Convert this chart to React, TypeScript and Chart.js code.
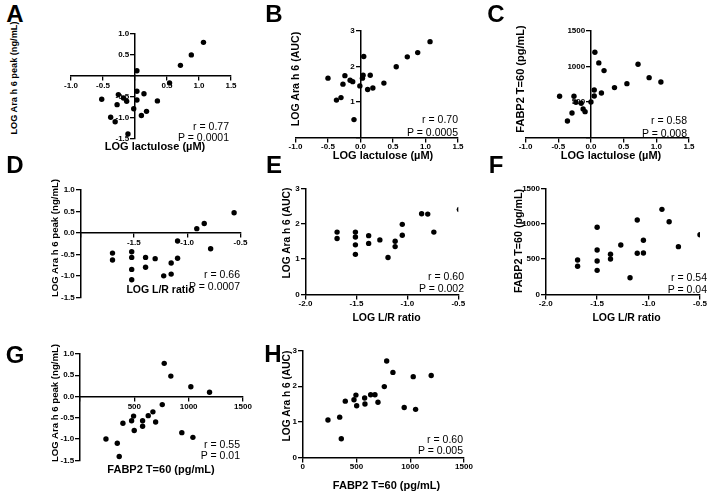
import React, { useEffect, useRef } from 'react';
import { Chart, registerables } from 'chart.js';
Chart.register(...registerables);

const FONT = '"Liberation Sans", Arial, Helvetica, sans-serif';

// ---- data ----
const A_x = [1.07, 0.88, 0.71, 0.03, 0.54, 0.03, 0.14, -0.52, -0.26, -0.18, -0.13, -0.28, 0.03, 0.35, -0.02, 0.18, 0.10, -0.38, -0.31, -0.11];
const A_y = [0.80, 0.50, 0.25, 0.12, -0.17, -0.37, -0.43, -0.56, -0.45, -0.53, -0.61, -0.69, -0.58, -0.60, -0.79, -0.85, -0.95, -0.99, -1.10, -1.39];

const B_x = [1.07, 0.88, 0.72, 0.55, 0.05, 0.36, 0.15, 0.04, 0.03, 0.19, 0.11, -0.01, -0.50, -0.24, -0.16, -0.12, -0.27, -0.30, -0.37, -0.10];
const B_y = [2.70, 2.39, 2.27, 1.99, 2.28, 1.53, 1.75, 1.75, 1.67, 1.39, 1.35, 1.45, 1.67, 1.74, 1.61, 1.57, 1.50, 1.12, 1.05, 0.50];

const C_x = [1.07, 0.89, 0.72, 0.55, 0.36, 0.16, 0.20, 0.12, 0.06, 0.05, 0.05, 0.00, -0.48, -0.26, -0.23, -0.15, -0.12, -0.09, -0.29, -0.36];
const C_y = [781, 842, 1031, 757, 701, 626, 941, 1050, 1200, 668, 583, 499, 579, 579, 494, 480, 400, 362, 343, 230];

const D_x = [-0.56, -0.84, -0.91, -0.78, -1.09, -1.09, -1.15, -1.15, -1.22, -1.30, -1.39, -1.39, -1.52, -1.52, -1.52, -1.52, -1.70, -1.70];
const D_y = [0.47, 0.22, 0.10, -0.37, -0.19, -0.59, -0.70, -0.96, -1.00, -0.60, -0.57, -0.80, -0.44, -0.57, -0.85, -1.09, -0.47, -0.63];

const E_x = [-0.49, -0.80, -0.86, -0.74, -1.05, -1.05, -1.12, -1.12, -1.19, -1.27, -1.38, -1.38, -1.51, -1.51, -1.51, -1.51, -1.69, -1.69];
const E_y = [2.40, 2.27, 2.28, 1.76, 1.98, 1.67, 1.50, 1.35, 1.04, 1.54, 1.66, 1.44, 1.76, 1.62, 1.40, 1.13, 1.76, 1.58];

const F_x = [-0.87, -0.80, -1.11, -0.50, -0.71, -1.05, -1.05, -1.11, -1.27, -1.37, -1.37, -1.18, -1.50, -1.50, -1.50, -1.50, -1.69, -1.69];
const F_y = [1202, 1027, 1051, 843, 674, 764, 584, 580, 697, 566, 499, 235, 948, 627, 471, 339, 485, 396];

const G_x = [775, 836, 1020, 1192, 757, 671, 628, 696, 576, 576, 493, 475, 499, 395, 937, 1039, 239, 343, 361];
const G_y = [0.78, 0.48, 0.23, 0.10, -0.19, -0.36, -0.45, -0.60, -0.57, -0.70, -0.46, -0.57, -0.80, -0.63, -0.85, -0.96, -1.00, -1.10, -1.41];

const H_x = [781, 839, 1028, 1195, 759, 672, 632, 700, 576, 579, 495, 477, 502, 396, 944, 1050, 235, 344, 359];
const H_y = [2.71, 2.39, 2.27, 2.30, 1.99, 1.76, 1.76, 1.55, 1.67, 1.50, 1.75, 1.62, 1.45, 1.58, 1.40, 1.35, 1.05, 1.13, 0.52];

const LETTERS = ['A', 'B', 'C', 'D', 'E', 'F', 'G', 'H'];
const X_TITLES = ['LOG lactulose (\u00b5M)', 'LOG lactulose (\u00b5M)', 'LOG lactulose (\u00b5M)', 'LOG L/R ratio', 'LOG L/R ratio', 'LOG L/R ratio', 'FABP2 T=60 (pg/mL)', 'FABP2 T=60 (pg/mL)'];
const Y_TITLES = ['LOG Ara h 6 peak (ng/mL)', 'LOG Ara h 6 (AUC)', 'FABP2 T=60 (pg/mL)', 'LOG Ara h 6 peak (ng/mL)', 'LOG Ara h 6 (AUC)', 'FABP2 T=60 (pg/mL)', 'LOG Ara h 6 peak (ng/mL)', 'LOG Ara h 6 (AUC)'];
const R_TEXT = ['r = 0.77', 'r = 0.70', 'r = 0.58', 'r = 0.66', 'r = 0.60', 'r = 0.54', 'r = 0.55', 'r = 0.60'];
const P_TEXT = ['P = 0.0001', 'P = 0.0005', 'P = 0.008', 'P = 0.0007', 'P = 0.002', 'P = 0.04', 'P = 0.01', 'P = 0.005'];

// axis ranges: [min, max, step]
const LAC_RANGE = [-1.0, 1.5, 0.5];
const LR_RANGE = [-2.0, -0.5, 0.5];
const FABP_RANGE = [0, 1500, 500];
const PEAK_RANGE = [-1.5, 1.0, 0.5];
const AUC_RANGE = [0, 3, 1];

type Area = { l: number; r: number; t: number; b: number };
type PanelDef = {
  xs: number[]; ys: number[];
  xr: number[]; yr: number[];
  xDec: number; yDec: number;
  yAxisAtX: number; xAxisAtY: number;
  hideX: number[]; hideY: number[];
  area: Area;
  letter: [number, number];
  xTitle: [number, number, number];
  yTitle: [number, number, number];
  stats: [number, number, number];
};

const PANELS: PanelDef[] = [
  { xs: A_x, ys: A_y, xr: LAC_RANGE, yr: PEAK_RANGE, xDec: 1, yDec: 1, yAxisAtX: 0, xAxisAtY: 0, hideX: [0], hideY: [0],
    area: { l: 71, r: 231, t: 34, b: 138.5 }, letter: [15, 13.5], xTitle: [155, 146, 11], yTitle: [15, 78, 9.2], stats: [229, 126, 137] },
  { xs: B_x, ys: B_y, xr: LAC_RANGE, yr: AUC_RANGE, xDec: 1, yDec: 0, yAxisAtX: 0, xAxisAtY: 0, hideX: [], hideY: [0],
    area: { l: 295.5, r: 458, t: 31, b: 137.3 }, letter: [274, 13.5], xTitle: [383, 155, 11], yTitle: [295, 79, 10.6], stats: [458, 118.5, 131.5] },
  { xs: C_x, ys: C_y, xr: LAC_RANGE, yr: FABP_RANGE, xDec: 1, yDec: 0, yAxisAtX: 0, xAxisAtY: 0, hideX: [], hideY: [0],
    area: { l: 525.6, r: 689, t: 31, b: 137.3 }, letter: [496, 13.5], xTitle: [611, 154.5, 11], yTitle: [520, 79, 11], stats: [687, 119.5, 132.5] },
  { xs: D_x, ys: D_y, xr: LR_RANGE, yr: PEAK_RANGE, xDec: 1, yDec: 1, yAxisAtX: -2, xAxisAtY: 0, hideX: [-2], hideY: [],
    area: { l: 80.5, r: 240.5, t: 190, b: 297.3 }, letter: [15, 164.5], xTitle: [160.5, 288.5, 10.5], yTitle: [54.5, 238, 9.6], stats: [240, 274, 285.5] },
  { xs: E_x, ys: E_y, xr: LR_RANGE, yr: AUC_RANGE, xDec: 1, yDec: 0, yAxisAtX: -2, xAxisAtY: 0, hideX: [], hideY: [],
    area: { l: 305.5, r: 458.3, t: 188.3, b: 294.3 }, letter: [274, 165], xTitle: [386.5, 316.5, 10.5], yTitle: [287, 233, 10.2], stats: [464, 275.5, 288] },
  { xs: F_x, ys: F_y, xr: LR_RANGE, yr: FABP_RANGE, xDec: 1, yDec: 0, yAxisAtX: -2, xAxisAtY: 0, hideX: [], hideY: [],
    area: { l: 545.7, r: 700, t: 188.3, b: 294.3 }, letter: [496, 164.5], xTitle: [626.5, 316.5, 10.5], yTitle: [517.5, 241, 10.7], stats: [707, 276.5, 288.5] },
  { xs: G_x, ys: G_y, xr: FABP_RANGE, yr: PEAK_RANGE, xDec: 0, yDec: 1, yAxisAtX: 0, xAxisAtY: 0, hideX: [0], hideY: [],
    area: { l: 80, r: 243, t: 354, b: 460.3 }, letter: [15, 354.5], xTitle: [161, 468.5, 11], yTitle: [54.5, 403, 9.6], stats: [240, 443.5, 454.5] },
  { xs: H_x, ys: H_y, xr: FABP_RANGE, yr: AUC_RANGE, xDec: 0, yDec: 0, yAxisAtX: 0, xAxisAtY: 0, hideX: [], hideY: [],
    area: { l: 302.7, r: 464, t: 350.7, b: 457.3 }, letter: [273, 353.5], xTitle: [386.5, 485, 11], yTitle: [287, 396, 10.2], stats: [463, 438.5, 450] },
];

const near = (a: number, list: number[]) => list.some((v) => Math.abs(v - a) < 1e-6);

const TICK_LEN = 4;
const TICK_PAD = 1;

// Y axes placed at a data value draw their labels flush against the axis line;
// move them left by the tick length + padding so they sit like a normal left axis.
const shiftYLabels = {
  id: 'shiftYLabels',
  beforeDraw(chart: any) {
    const scale = chart.scales.y;
    if (!scale || typeof scale.getLabelItems !== 'function') return;
    const items = scale.getLabelItems(chart.chartArea);
    for (const it of items) {
      if (!it.__shifted) {
        it.options.translation[0] -= TICK_LEN + TICK_PAD + 0.75;
        it.__shifted = true;
      }
    }
  },
};

function Panel({ def }: { def: PanelDef }) {
  const ref = useRef<HTMLCanvasElement>(null);
  const PAD = 30;
  const { l, r, t, b } = def.area;
  const cx = Math.floor(l) - PAD;
  const cy = Math.floor(t) - PAD;
  const cw = Math.ceil(r) + PAD - cx;
  const ch = Math.ceil(b) + PAD - cy;

  useEffect(() => {
    if (!ref.current) return;
    const tickFont = { family: FONT, size: 8, weight: 'bold' as const };
    const chart = new Chart(ref.current, {
      type: 'scatter',
      data: {
        datasets: [{
          data: def.xs.map((x, i) => ({ x, y: def.ys[i] })),
          pointRadius: 2.7,
          pointBackgroundColor: '#000',
          pointBorderWidth: 0,
          showLine: false,
        }],
      },
      plugins: [shiftYLabels],
      options: {
        animation: false,
        responsive: false,
        devicePixelRatio: 1,
        layout: { padding: { left: l - cx, top: t - cy, right: cx + cw - r, bottom: cy + ch - b } },
        plugins: { legend: { display: false }, tooltip: { enabled: false }, title: { display: false } },
        scales: {
          x: {
            type: 'linear',
            min: def.xr[0], max: def.xr[1],
            position: { y: def.xAxisAtY } as any,
            ticks: {
              stepSize: def.xr[2], autoSkip: false, maxRotation: 0, padding: TICK_PAD, color: '#000', font: tickFont,
              callback: (v: any) => (near(Number(v), def.hideX) ? '' : Number(v).toFixed(def.xDec)),
            },
            grid: { drawOnChartArea: false, drawTicks: true, tickLength: TICK_LEN, color: '#000', lineWidth: 1.3 },
            border: { display: true, color: '#000', width: 1.5 },
          },
          y: {
            type: 'linear',
            min: def.yr[0], max: def.yr[1],
            position: { x: def.yAxisAtX } as any,
            ticks: {
              stepSize: def.yr[2], autoSkip: false, padding: TICK_PAD, color: '#000', font: tickFont,
              callback: (v: any) => (near(Number(v), def.hideY) ? '' : Number(v).toFixed(def.yDec)),
            },
            grid: { drawOnChartArea: false, drawTicks: true, tickLength: TICK_LEN, color: '#000', lineWidth: 1.3 },
            border: { display: true, color: '#000', width: 1.5 },
          },
        },
      },
    });
    return () => chart.destroy();
  }, [def]);

  return (
    <canvas
      ref={ref}
      width={cw}
      height={ch}
      style={{ position: 'absolute', left: cx, top: cy, width: cw, height: ch }}
    />
  );
}

const textBase: React.CSSProperties = {
  position: 'absolute',
  fontFamily: FONT,
  lineHeight: 1,
  whiteSpace: 'nowrap',
  color: '#000',
};

export default function App() {
  return (
    <div style={{ position: 'absolute', left: 0, top: 0, width: 723, height: 494, background: '#fff', overflow: 'hidden' }}>
      {PANELS.map((def, i) => (
        <React.Fragment key={i}>
          <Panel def={def} />
          <div style={{ ...textBase, left: def.xTitle[0], top: def.xTitle[1], fontSize: def.xTitle[2], fontWeight: 'bold', transform: 'translate(-50%,-50%)' }}>
            {X_TITLES[i]}
          </div>
          <div style={{ ...textBase, left: def.yTitle[0], top: def.yTitle[1], fontSize: def.yTitle[2], fontWeight: 'bold', transform: 'translate(-50%,-50%) rotate(-90deg)' }}>
            {Y_TITLES[i]}
          </div>
          <div style={{ ...textBase, left: def.stats[0], top: def.stats[1], fontSize: 10.5, transform: 'translate(-100%,-50%)' }}>
            {R_TEXT[i]}
          </div>
          <div style={{ ...textBase, left: def.stats[0], top: def.stats[2], fontSize: 10.5, transform: 'translate(-100%,-50%)' }}>
            {P_TEXT[i]}
          </div>
          <div style={{ ...textBase, left: def.letter[0], top: def.letter[1], fontSize: 24, fontWeight: 'bold', transform: 'translate(-50%,-50%)', background: 'transparent' }}>
            {LETTERS[i]}
          </div>
        </React.Fragment>
      ))}
    </div>
  );
}
